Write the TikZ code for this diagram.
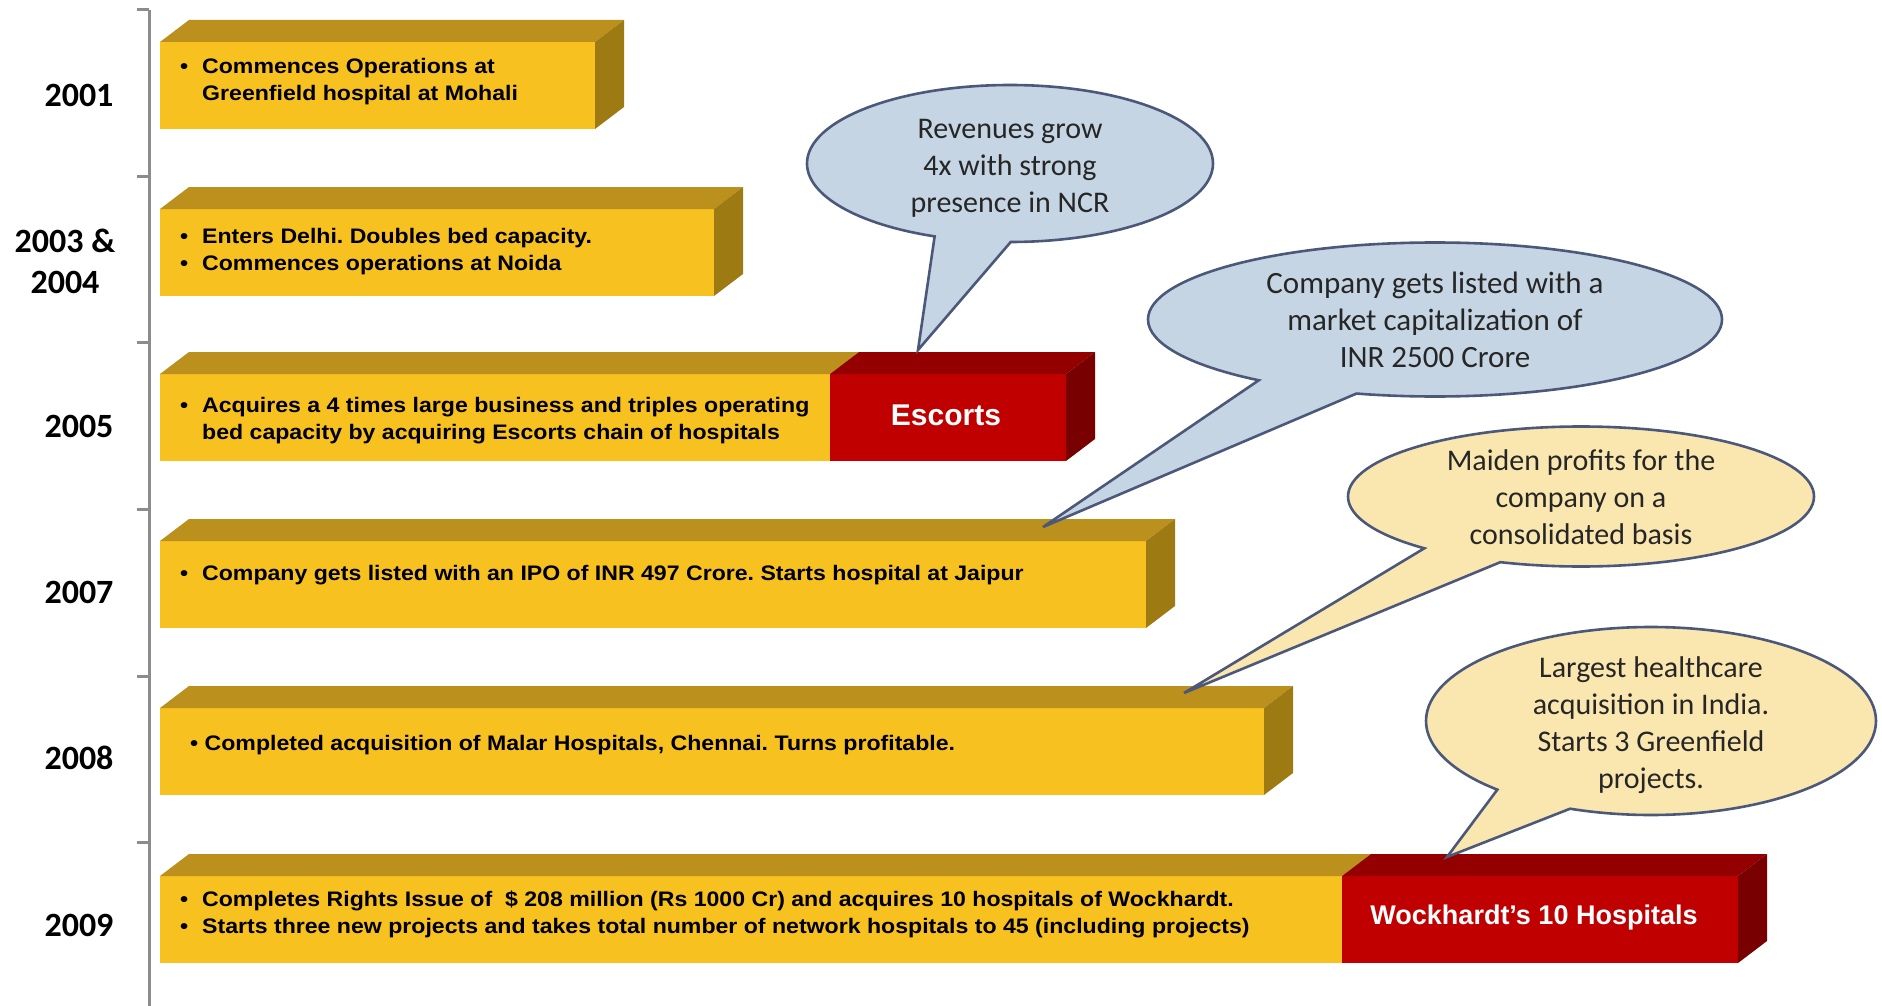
\documentclass[tikz,border=0pt]{standalone}
\usepackage{fontspec}
\setmainfont{Liberation Sans}
\newfontfamily\boxfont[FakeStretch=1.1]{Liberation Sans}
\newfontfamily\callfont{Carlito}
\usetikzlibrary{shapes.callouts}
\frenchspacing
\definecolor{yfront}{RGB}{247,193,32}
\definecolor{ytop}{RGB}{188,144,28}
\definecolor{yside}{RGB}{158,122,18}
\definecolor{rfront}{RGB}{192,0,0}
\definecolor{rtop}{RGB}{148,0,0}
\definecolor{rside}{RGB}{120,0,0}
\definecolor{cblue}{RGB}{197,213,228}
\definecolor{cyell}{RGB}{250,230,175}
\definecolor{cline}{RGB}{76,88,122}
\definecolor{axisgray}{RGB}{140,140,140}
\newcommand{\segfront}[5]{% x0 x1 top frontcol topcol
  \fill[#4] (#1,#3) rectangle (#2,#3+87);
  \fill[#5] (#1,#3) -- (#1+29,#3-22) -- (#2+29,#3-22) -- (#2,#3) -- cycle;}
\newcommand{\sideface}[3]{\fill[#3] (#1,#2) -- (#1+29,#2-22) -- (#1+29,#2+65) -- (#1,#2+87) -- cycle;}
\newcommand{\bl}{\makebox[22pt][l]{\textbullet}}
\begin{document}
\begin{tikzpicture}[x=1pt,y=-1pt,
  boxtext/.style={anchor=west,align=left,inner sep=0pt,font=\boxfont\fontsize{21}{27}\selectfont\bfseries},
  yeartext/.style={align=center,inner sep=0pt,font=\callfont\fontsize{34}{41}\selectfont\bfseries},
  callshape/.style={ellipse callout,draw=cline,line width=2.6pt,inner sep=0pt,callout pointer arc=22},
  calltext/.style={align=center,inner sep=0pt,font=\callfont\fontsize{30}{37}\selectfont,text=black!85},
  redtext/.style={text=white,inner sep=0pt,font=\bfseries}]
\useasboundingbox (0,0) rectangle (1882,1006);
% axis
\draw[axisgray,line width=3pt] (149,10) -- (149,1006);
\foreach \ty in {10,176,342,509,676,842} \draw[axisgray,line width=3pt] (137,\ty) -- (149,\ty);
% year labels
\node[yeartext] (y1) at (79,95) {2001};
\node[yeartext] (y2) at (65,261) {2003 \&\\2004};
\node[yeartext] (y3) at (79,426) {2005};
\node[yeartext] (y4) at (79,592) {2007};
\node[yeartext] (y5) at (79,758) {2008};
\node[yeartext] (y6) at (79,925) {2009};
% bars
\segfront{160}{595}{42}{yfront}{ytop}\sideface{595}{42}{yside}
\segfront{160}{714}{209}{yfront}{ytop}\sideface{714}{209}{yside}
\segfront{160}{830}{374}{yfront}{ytop}\segfront{830}{1066}{374}{rfront}{rtop}\sideface{1066}{374}{rside}
\segfront{160}{1146}{541}{yfront}{ytop}\sideface{1146}{541}{yside}
\segfront{160}{1264}{708}{yfront}{ytop}\sideface{1264}{708}{yside}
\segfront{160}{1342}{876}{yfront}{ytop}\segfront{1342}{1738}{876}{rfront}{rtop}\sideface{1738}{876}{rside}
% bar texts
\node[boxtext] (t1) at (180,82) {\bl Commences Operations at\\\hspace*{22pt}Greenfield hospital at Mohali};
\node[boxtext] (t2) at (180,252) {\bl Enters Delhi. Doubles bed capacity.\\\bl Commences operations at Noida};
\node[boxtext] (t3) at (180,421) {\bl Acquires a 4 times large business and triples operating\\\hspace*{22pt}bed capacity by acquiring Escorts chain of hospitals};
\node[boxtext] (t4) at (180,575) {\bl Company gets listed with an IPO of INR 497 Crore. Starts hospital at Jaipur};
\node[boxtext] (t5) at (190,745) {\textbullet\ Completed acquisition of Malar Hospitals, Chennai. Turns profitable.};
\node[boxtext] (t6) at (180,914.5) {\bl Completes Rights Issue of \ \$ 208 million (Rs 1000 Cr) and acquires 10 hospitals of Wockhardt.\\\bl Starts three new projects and takes total number of network hospitals to 45 (including projects)};
\node[redtext,font=\fontsize{30}{36}\selectfont\bfseries] (esc) at (946,415) {Escorts};
\node[redtext,font=\fontsize{27}{32}\selectfont\bfseries] (wock) at (1534,918) {Wockhardt’s 10 Hospitals};
% callout tips
\coordinate (p1) at (918,350);
\coordinate (p2) at (1043,527);
\coordinate (p3) at (1184,693);
\coordinate (p4) at (1447,857);
% callouts
\node[callshape,fill=cblue,minimum width=406,minimum height=157,callout absolute pointer={(p1)}] (c1) at (1010,163.5) {};
\node[calltext] (c1t) at (1010,168) {Revenues grow\\4x with strong\\presence in NCR};
\node[callshape,fill=cblue,minimum width=574,minimum height=154,callout absolute pointer={(p2)}] (c2) at (1435,319.5) {};
\node[calltext,font=\callfont\fontsize{31}{37}\selectfont] (c2t) at (1435,320) {Company gets listed with a\\market capitalization of\\INR 2500 Crore};
\node[callshape,fill=cyell,minimum width=466,minimum height=140,callout absolute pointer={(p3)}] (c3) at (1581,496.5) {};
\node[calltext] (c3t) at (1581,497) {Maiden profits for the\\company on a\\consolidated basis};
\node[callshape,fill=cyell,minimum width=450,minimum height=188,callout absolute pointer={(p4)}] (c4) at (1651,721) {};
\node[calltext] (c4t) at (1651,725) {Largest healthcare\\acquisition in India.\\Starts 3 Greenfield\\projects.};
\end{tikzpicture}
\end{document}
